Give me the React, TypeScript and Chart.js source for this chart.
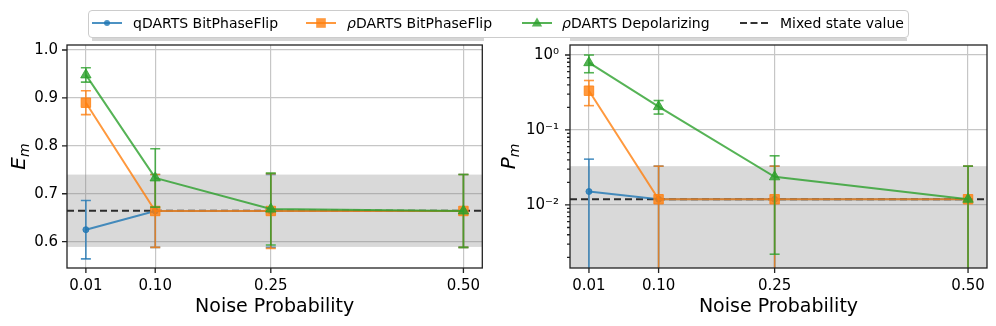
import React, { useEffect, useRef } from 'react';
import { Chart, registerables } from 'chart.js';
Chart.register(...registerables);

const FONT = "'DejaVu Sans', sans-serif";

// ---- data ----
const noiseProb = [0.01, 0.10, 0.25, 0.50];
const xTickLabels = ['0.01', '0.10', '0.25', '0.50'];

const qdartsBPF_E = [0.625, 0.664, 0.664, 0.664];
const qdartsBPF_Eerr = [0.061, 0.076, 0.076, 0.076];
const rdartsBPF_E = [0.890, 0.664, 0.664, 0.664];
const rdartsBPF_Eerr = [0.025, 0.076, 0.078, 0.076];
const rdartsDep_E = [0.948, 0.733, 0.668, 0.664];
const rdartsDep_Eerr = [0.015, 0.061, 0.075, 0.076];
const mixedE = 0.6645;
const mixedEerr = 0.0755;
const leftYTicks = [0.6, 0.7, 0.8, 0.9, 1.0];
const leftYLabels = ['0.6', '0.7', '0.8', '0.9', '1.0'];

const qdartsBPF_P = [0.0151, 0.0119, 0.0119, 0.0119];
const qdartsBPF_Perr = [0.0257, 0.021, 0.021, 0.021];
const rdartsBPF_P = [0.334, 0.0119, 0.0119, 0.0119];
const rdartsBPF_Perr = [0.123, 0.021, 0.021, 0.021];
const rdartsDep_P = [0.79, 0.205, 0.0237, 0.0119];
const rdartsDep_Perr = [0.21, 0.042, 0.0215, 0.021];
const mixedP = 0.0119;
const mixedPerr = 0.021;
const rightYTicks = [1, 0.1, 0.01];
const rightYLabels = ['10\u2070', '10\u207B\u00B9', '10\u207B\u00B2'];

const seriesLabels = ['qDARTS BitPhaseFlip', '\u03C1DARTS BitPhaseFlip', '\u03C1DARTS Depolarizing', 'Mixed state value'];

// ---- styles ----
const BLUE = 'rgba(31,119,180,0.8)';
const ORANGE = 'rgba(255,127,14,0.8)';
const GREEN = 'rgba(44,160,44,0.8)';
const DASH = 'rgba(0,0,0,0.8)';
const GRID = '#c6c6c6';

const isPow10 = (v: number) => {
  const l = Math.log10(v);
  return Math.abs(l - Math.round(l)) < 1e-6;
};
const isNiceLog = (v: number) => {
  const e = Math.floor(Math.log10(v) + 1e-9);
  const m = v / Math.pow(10, e);
  return Math.abs(m - Math.round(m)) < 1e-6 && Math.round(m) >= 1 && Math.round(m) <= 9;
};

const errorBarPlugin = {
  id: 'errBars',
  beforeDatasetDraw(chart: any, args: any) {
    const ds: any = chart.data.datasets[args.index];
    if (!ds.errors) return;
    const { ctx, chartArea: ca, scales } = chart;
    const xs = scales.x, ys = scales.y;
    ctx.save();
    ctx.beginPath();
    ctx.rect(ca.left, ca.top, ca.right - ca.left, ca.bottom - ca.top);
    ctx.clip();
    ctx.strokeStyle = ds.borderColor;
    ctx.lineWidth = 1.6;
    ds.data.forEach((p: any, i: number) => {
      const e = ds.errors[i];
      const px = xs.getPixelForValue(p.x);
      const hi = ys.getPixelForValue(p.y + e);
      const loV = p.y - e;
      const lo = loV > 0 || ys.type !== 'logarithmic' ? ys.getPixelForValue(loV) : ca.bottom + 20;
      ctx.beginPath();
      ctx.moveTo(px, hi);
      ctx.lineTo(px, lo);
      ctx.stroke();
      ctx.beginPath();
      ctx.moveTo(px - 5, hi);
      ctx.lineTo(px + 5, hi);
      ctx.stroke();
      ctx.beginPath();
      ctx.moveTo(px - 5, lo);
      ctx.lineTo(px + 5, lo);
      ctx.stroke();
    });
    ctx.restore();
  },
};

const refBandPlugin = {
  id: 'refBand',
  beforeDatasetsDraw(chart: any, _a: any, opts: any) {
    const { ctx, chartArea: ca, scales } = chart;
    const y = scales.y;
    const top = y.getPixelForValue(opts.value + opts.err);
    const lowV = opts.value - opts.err;
    const bot = lowV > 0 || y.type !== 'logarithmic' ? y.getPixelForValue(lowV) : ca.bottom;
    ctx.save();
    ctx.beginPath();
    ctx.rect(ca.left, ca.top, ca.right - ca.left, ca.bottom - ca.top);
    ctx.clip();
    ctx.fillStyle = 'rgba(128,128,128,0.3)';
    ctx.fillRect(ca.left, top, ca.right - ca.left, Math.min(bot, ca.bottom) - top);
    ctx.strokeStyle = DASH;
    ctx.lineWidth = 2;
    ctx.setLineDash([7, 4]);
    const py = y.getPixelForValue(opts.value);
    ctx.beginPath();
    ctx.moveTo(ca.left, py);
    ctx.lineTo(ca.right, py);
    ctx.stroke();
    ctx.restore();
  },
};

const framePlugin = {
  id: 'frame',
  afterDatasetsDraw(chart: any) {
    const { ctx, chartArea: ca, scales } = chart;
    const x = scales.x, y = scales.y;
    ctx.save();
    ctx.strokeStyle = '#222';
    ctx.lineWidth = 1.3;
    ctx.strokeRect(ca.left, ca.top, ca.right - ca.left, ca.bottom - ca.top);
    ctx.beginPath();
    x.ticks.forEach((t: any) => {
      const px = x.getPixelForValue(t.value);
      ctx.moveTo(px, ca.bottom);
      ctx.lineTo(px, ca.bottom + 5);
    });
    y.ticks.forEach((t: any) => {
      const py = y.getPixelForValue(t.value);
      const major = y.type !== 'logarithmic' || isPow10(t.value);
      ctx.moveTo(ca.left - (major ? 5 : 3), py);
      ctx.lineTo(ca.left, py);
    });
    ctx.stroke();
    ctx.restore();
  },
};

const titlePlugin = {
  id: 'axisTitles',
  afterDraw(chart: any, _a: any, opts: any) {
    const { ctx, chartArea: ca } = chart;
    ctx.save();
    ctx.fillStyle = '#000';
    ctx.font = `19px ${FONT}`;
    ctx.textAlign = 'center';
    ctx.textBaseline = 'alphabetic';
    ctx.fillText(opts.xTitle, (ca.left + ca.right) / 2, ca.bottom + 44);
    ctx.translate(opts.yX, (ca.top + ca.bottom) / 2);
    ctx.rotate(-Math.PI / 2);
    ctx.font = `italic 20px ${FONT}`;
    const wM = ctx.measureText(opts.yMain).width;
    ctx.font = `italic 14px ${FONT}`;
    const wS = ctx.measureText(opts.ySub).width;
    const start = -(wM + wS) / 2;
    ctx.textAlign = 'left';
    ctx.font = `italic 20px ${FONT}`;
    ctx.fillText(opts.yMain, start, 0);
    ctx.font = `italic 14px ${FONT}`;
    ctx.fillText(opts.ySub, start + wM, 4);
    ctx.restore();
  },
};

function series(label: string, vals: number[], errs: number[], color: string, style: string, radius: number, order: number) {
  return {
    label,
    data: noiseProb.map((x, i) => ({ x, y: vals[i] })),
    errors: errs,
    borderColor: color,
    backgroundColor: color,
    borderWidth: 2,
    pointStyle: style,
    pointRadius: radius,
    pointBorderWidth: 1,
    pointBorderColor: color,
    pointBackgroundColor: color,
    order,
    tension: 0,
    fill: false,
  };
}

const tickFont = { family: FONT, size: 15 };

function xScale() {
  return {
    type: 'linear',
    min: -0.0145,
    max: 0.5245,
    afterBuildTicks: (s: any) => {
      s.ticks = noiseProb.map((v) => ({ value: v }));
    },
    afterFit: (s: any) => {
      s.height = 58;
    },
    grid: { color: GRID, lineWidth: 1.2, drawTicks: false },
    border: { display: false },
    ticks: {
      padding: 9,
      font: tickFont,
      color: '#000',
      autoSkip: false,
      maxRotation: 0,
      callback: (v: number) => {
        const i = noiseProb.findIndex((t) => Math.abs(t - v) < 1e-9);
        return i >= 0 ? xTickLabels[i] : '';
      },
    },
  };
}

function makeConfig(side: 'left' | 'right'): any {
  const left = side === 'left';
  const datasets = left
    ? [
        series(seriesLabels[0], qdartsBPF_E, qdartsBPF_Eerr, BLUE, 'circle', 3, 3),
        series(seriesLabels[1], rdartsBPF_E, rdartsBPF_Eerr, ORANGE, 'rect', 6.7, 2),
        series(seriesLabels[2], rdartsDep_E, rdartsDep_Eerr, GREEN, 'triangle', 6, 1),
      ]
    : [
        series(seriesLabels[0], qdartsBPF_P, qdartsBPF_Perr, BLUE, 'circle', 3, 3),
        series(seriesLabels[1], rdartsBPF_P, rdartsBPF_Perr, ORANGE, 'rect', 6.7, 2),
        series(seriesLabels[2], rdartsDep_P, rdartsDep_Perr, GREEN, 'triangle', 6, 1),
      ];
  const yScale = left
    ? {
        type: 'linear',
        min: 0.545,
        max: 1.0104,
        afterBuildTicks: (s: any) => {
          s.ticks = leftYTicks.map((v) => ({ value: v }));
        },
        afterFit: (s: any) => {
          s.width = 67;
        },
        grid: { color: GRID, lineWidth: 1.2, drawTicks: false },
        border: { display: false },
        ticks: {
          padding: 9,
          font: tickFont,
          color: '#000',
          autoSkip: false,
          callback: (v: number) => {
            const i = leftYTicks.findIndex((t) => Math.abs(t - v) < 1e-9);
            return i >= 0 ? leftYLabels[i] : '';
          },
        },
      }
    : {
        type: 'logarithmic',
        min: 0.00144,
        max: 1.36,
        afterBuildTicks: (s: any) => {
          s.ticks = s.ticks.filter((t: any) => isNiceLog(t.value));
        },
        afterFit: (s: any) => {
          s.width = 82;
        },
        grid: {
          color: (c: any) => (c.tick && isPow10(c.tick.value) ? GRID : 'rgba(0,0,0,0)'),
          lineWidth: 1.2,
          drawTicks: false,
        },
        border: { display: false },
        ticks: {
          padding: 11,
          font: tickFont,
          color: '#000',
          autoSkip: false,
          callback: (v: number) => {
            const i = rightYTicks.findIndex((t) => Math.abs(Math.log10(t) - Math.log10(v)) < 1e-6);
            return i >= 0 ? rightYLabels[i] : '';
          },
        },
      };
  return {
    type: 'line',
    data: { datasets },
    options: {
      responsive: false,
      animation: false,
      events: [],
      layout: { padding: { top: 45, right: left ? 6 : 9, left: 0, bottom: 0 } },
      plugins: {
        legend: { display: false },
        tooltip: { enabled: false },
        refBand: { value: left ? mixedE : mixedP, err: left ? mixedEerr : mixedPerr },
        axisTitles: {
          xTitle: 'Noise Probability',
          yMain: left ? 'E' : 'P',
          ySub: 'm',
          yX: left ? 25 : 27,
        },
      },
      scales: { x: xScale(), y: yScale },
    },
    plugins: [refBandPlugin, errorBarPlugin, framePlugin, titlePlugin],
  };
}

function LegendIcon({ kind }: { kind: number }) {
  const colors = [BLUE, ORANGE, GREEN, DASH];
  const c = colors[kind];
  return (
    <svg width={30} height={14} style={{ display: 'block' }}>
      <line
        x1={0}
        y1={7}
        x2={30}
        y2={7}
        stroke={c}
        strokeWidth={2}
        strokeDasharray={kind === 3 ? '7,3.5' : undefined}
      />
      {kind === 0 && <circle cx={15} cy={7} r={3} fill={c} />}
      {kind === 1 && <rect x={10.2} y={2.2} width={9.6} height={9.6} fill={c} />}
      {kind === 2 && <polygon points="15,1.5 20.2,10.5 9.8,10.5" fill={c} />}
    </svg>
  );
}

function LegendText({ i }: { i: number }) {
  const s = seriesLabels[i];
  if (s.startsWith('\u03C1')) {
    return (
      <span>
        <i>{'\u03C1'}</i>
        {s.slice(1)}
      </span>
    );
  }
  return <span>{s}</span>;
}

export default function App() {
  const leftRef = useRef<HTMLCanvasElement>(null);
  const rightRef = useRef<HTMLCanvasElement>(null);
  useEffect(() => {
    const c1 = new Chart(leftRef.current as HTMLCanvasElement, makeConfig('left'));
    const c2 = new Chart(rightRef.current as HTMLCanvasElement, makeConfig('right'));
    return () => {
      c1.destroy();
      c2.destroy();
    };
  }, []);

  const iconX = [92, 306, 522, 740];
  const textX = [133, 347, 562, 780];

  return (
    <div
      style={{
        position: 'fixed',
        left: 0,
        top: 0,
        width: 996,
        height: 326,
        background: '#fff',
        fontFamily: FONT,
        overflow: 'hidden',
      }}
    >
      <canvas ref={leftRef} width={490} height={326} style={{ position: 'absolute', left: 0, top: 0 }} />
      <canvas ref={rightRef} width={508} height={326} style={{ position: 'absolute', left: 488, top: 0 }} />
      <div style={{ position: 'absolute', left: 92, top: 38, width: 392, height: 3, background: '#d6d6d6' }} />
      <div style={{ position: 'absolute', left: 570, top: 38, width: 337, height: 3, background: '#d6d6d6' }} />
      <div
        style={{
          position: 'absolute',
          left: 88,
          top: 10,
          width: 821,
          height: 28,
          border: '1px solid #cccccc',
          borderRadius: 4,
          background: '#fff',
          boxSizing: 'border-box',
        }}
      />
      {[0, 1, 2, 3].map((i) => (
        <React.Fragment key={i}>
          <div style={{ position: 'absolute', left: iconX[i], top: 16 }}>
            <LegendIcon kind={i} />
          </div>
          <div
            style={{
              position: 'absolute',
              left: textX[i],
              top: 10,
              height: 28,
              lineHeight: '26px',
              fontSize: 14,
              color: '#000',
              whiteSpace: 'nowrap',
            }}
          >
            <LegendText i={i} />
          </div>
        </React.Fragment>
      ))}
    </div>
  );
}
